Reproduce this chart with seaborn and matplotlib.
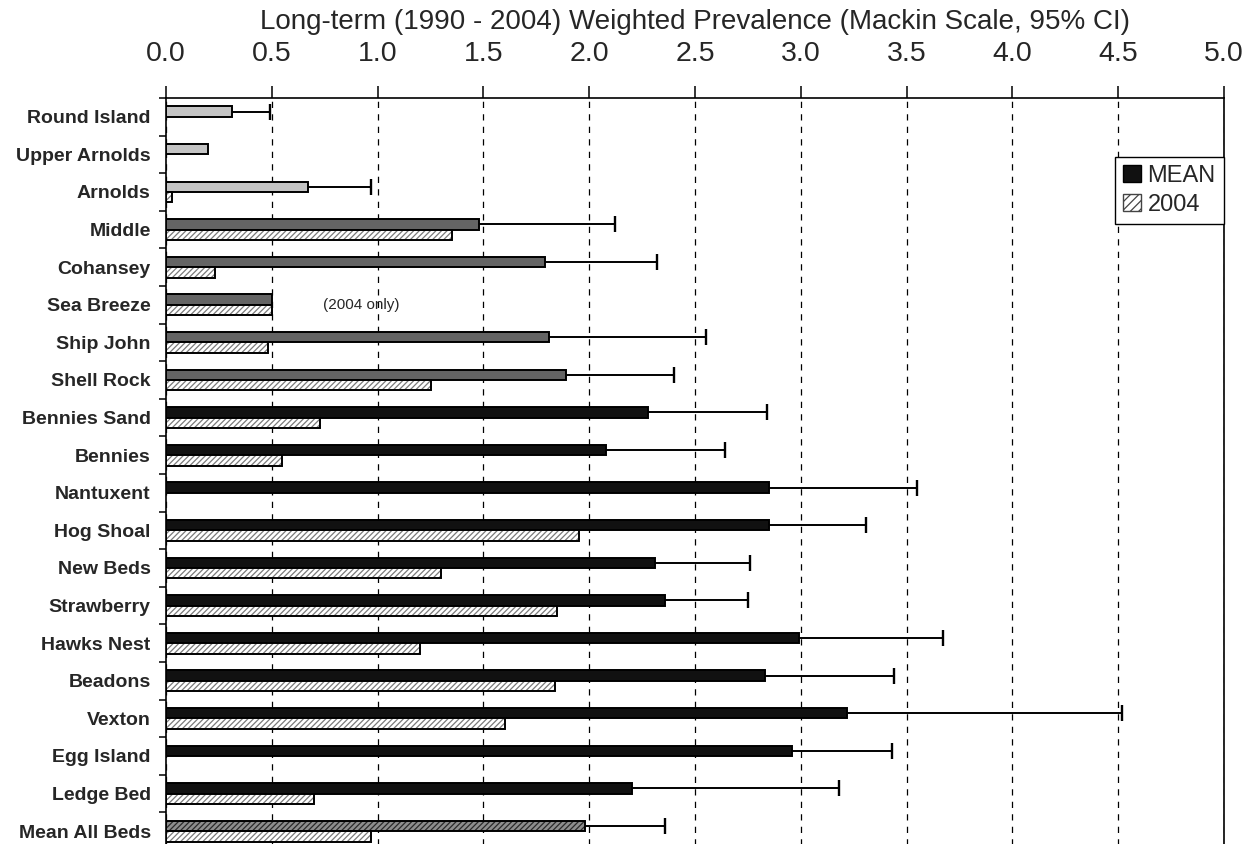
import numpy as np
import pandas as pd
import matplotlib
matplotlib.use("Agg")
import matplotlib.pyplot as plt
import seaborn as sns
from matplotlib.patches import Rectangle, Patch
from matplotlib.ticker import FixedLocator

# Oyster beds, upbay to downbay, plus the bay-wide mean
sites = ["Round Island", "Upper Arnolds", "Arnolds", "Middle", "Cohansey",
         "Sea Breeze", "Ship John", "Shell Rock", "Bennies Sand", "Bennies",
         "Nantuxent", "Hog Shoal", "New Beds", "Strawberry", "Hawks Nest",
         "Beadons", "Vexton", "Egg Island", "Ledge Bed", "Mean All Beds"]
region = ["upper"] * 3 + ["middle"] * 5 + ["lower"] * 11 + ["all"]

# Long-term mean weighted prevalence and upper 95% CI bound
mean_vals = [0.31, 0.20, 0.67, 1.48, 1.79, 0.50, 1.81, 1.89, 2.28, 2.08,
             2.85, 2.85, 2.31, 2.36, 2.99, 2.83, 3.22, 2.96, 2.20, 1.98]
upper_ci = [0.49, np.nan, 0.97, 2.12, 2.32, np.nan, 2.55, 2.40, 2.84, 2.64,
            3.55, 3.31, 2.76, 2.75, 3.67, 3.44, 4.52, 3.43, 3.18, 2.36]
# 2004 weighted prevalence
vals_2004 = [np.nan, np.nan, 0.03, 1.35, 0.23, 0.50, 0.48, 1.25, 0.73, 0.55,
             np.nan, 1.95, 1.30, 1.85, 1.20, 1.84, 1.60, np.nan, 0.70, 0.97]

x_ticks = [0.0, 0.5, 1.0, 1.5, 2.0, 2.5, 3.0, 3.5, 4.0, 4.5, 5.0]
series = ["MEAN", "2004"]

region_color = {"upper": "#c4c4c4", "middle": "#646464",
                "lower": "#111111", "all": "#8e8e8e"}
hatch_2004 = "//////"
hatch_2004_color = "#7a7a7a"

n = len(sites)
df = pd.DataFrame({
    "site": sites * 2,
    "series": [series[0]] * n + [series[1]] * n,
    "value": mean_vals + vals_2004,
}).dropna()

sns.set_theme(style="white")
plt.rcParams["font.family"] = ["Liberation Sans", "DejaVu Sans"]
plt.rcParams["hatch.linewidth"] = 0.9

fig = plt.figure(figsize=(12.53, 8.44), dpi=100)
ax = fig.add_axes([166 / 1253, -6 / 844, 1058 / 1253, 752 / 844])

sns.barplot(data=df, y="site", x="value", hue="series", hue_order=series,
            order=sites, orient="h", width=0.55, gap=0, errorbar=None,
            legend=False, ax=ax, zorder=3)


def outline(p):
    ax.add_patch(Rectangle(p.get_xy(), p.get_width(), p.get_height(),
                           fill=False, ec="black", lw=1.4, zorder=4))


mean_bar_y = {}
for p in list(ax.patches):
    yc = p.get_y() + p.get_height() / 2
    i = int(round(yc))
    if yc < i:  # MEAN bar sits above the category centre
        mean_bar_y[i] = yc
        reg = region[i]
        p.set_facecolor(region_color[reg])
        if reg == "all":
            p.set_edgecolor("#2a2a2a")
            p.set_hatch("//////")
            p.set_linewidth(0)
            outline(p)
        else:
            p.set_edgecolor("black")
            p.set_linewidth(1.4)
    else:
        p.set_facecolor("white")
        p.set_edgecolor(hatch_2004_color)
        p.set_hatch(hatch_2004)
        p.set_linewidth(0)
        outline(p)

# One-sided 95% CI whiskers on the long-term means
for i, (m, hi) in enumerate(zip(mean_vals, upper_ci)):
    if np.isnan(hi):
        continue
    eb = ax.errorbar(m, mean_bar_y[i], xerr=[[0], [hi - m]], fmt="none",
                     ecolor="black", elinewidth=1.4, capsize=5.5,
                     capthick=1.7, zorder=5)
    caps = eb[1]
    if len(caps) == 2:
        caps[0].set_visible(False)

ax.text(0.74, sites.index("Sea Breeze"), "(2004 only)", fontsize=11,
        va="center", ha="left", zorder=6)

# Axes, ticks and grid
ax.set_xlim(0, 5)
ax.set_ylim(n - 0.5, -0.5)
ax.xaxis.tick_top()
ax.xaxis.set_label_position("top")
ax.set_xticks(x_ticks)
ax.set_xticklabels([f"{t:.1f}" for t in x_ticks], fontsize=20.5)
ax.tick_params(axis="x", which="major", direction="out", length=9,
               width=1.1, color="black", pad=13, top=True, bottom=False)
ax.set_xlabel("Long-term (1990 - 2004) Weighted Prevalence (Mackin Scale, 95% CI)",
              fontsize=20, labelpad=9)
ax.set_ylabel("")
ax.set_yticks(range(n))
ax.set_yticklabels(sites, fontsize=14, fontweight="bold")
ax.tick_params(axis="y", which="major", length=0, pad=11)
ax.yaxis.set_minor_locator(FixedLocator(np.arange(-0.5, n, 1.0)))
ax.tick_params(axis="y", which="minor", direction="out", length=5,
               width=1.1, color="black", left=True)

ax.xaxis.grid(True, linestyle=(0, (5, 5)), color="black", lw=0.9, zorder=0)
ax.set_axisbelow(True)
for side in ["top", "left", "right"]:
    ax.spines[side].set_visible(True)
    ax.spines[side].set_color("black")
    ax.spines[side].set_linewidth(1.2)
ax.spines["bottom"].set_visible(False)

handles = [Patch(facecolor="#111111", edgecolor="black", label="MEAN"),
           Patch(facecolor="white", edgecolor="#444444", hatch="////",
                 label="2004")]
leg = ax.legend(handles=handles, loc="upper right",
                bbox_to_anchor=(1.0, 0.922), fontsize=17, frameon=True,
                fancybox=False, edgecolor="black", framealpha=1,
                handlelength=0.75, handleheight=0.75, handletextpad=0.3,
                borderpad=0.35, labelspacing=0.3, borderaxespad=0)
leg.get_frame().set_linewidth(1.0)
leg.set_zorder(10)

fig.savefig("out.png", dpi=100, facecolor="white")
